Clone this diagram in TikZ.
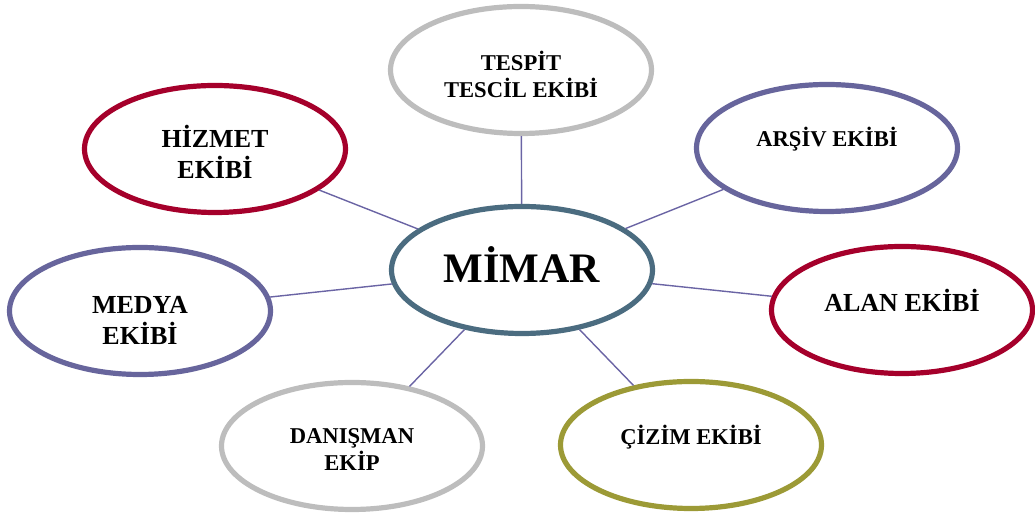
\documentclass[tikz,border=0pt]{standalone}
\usepackage{fontspec}
\setmainfont{Liberation Serif}
\usetikzlibrary{shapes}

\definecolor{ekipred}{HTML}{A5002B}
\definecolor{ekippurple}{HTML}{67659C}
\definecolor{ekipgray}{HTML}{BDBDBD}
\definecolor{ekipolive}{HTML}{9C9A36}
\definecolor{mimarblue}{HTML}{4B6C80}
\definecolor{linkblue}{HTML}{6A64A4}

% first baseline of the text put #1 above the centre of its ellipse
\newcommand{\ekiptext}[2]{\raisebox{#1}[0pt][0pt]{\begin{tabular}[t]{@{}c@{}}#2\end{tabular}}}

\begin{document}
\begin{tikzpicture}[
    x=0.5pt, y=-0.5pt,
    every node/.style={font=\bfseries},
    ekip/.style={draw, ellipse, fill=white, line width=2.6pt, minimum width=130.5pt, minimum height=63.5pt, inner sep=0pt},
    bigtext/.style={font=\fontsize{13}{15}\selectfont\bfseries},
    smalltext/.style={font=\fontsize{11.3}{13}\selectfont\bfseries},
    link/.style={draw=linkblue, line width=0.7pt}
]
\useasboundingbox (0,0) rectangle (1035,517);
\node[ekip, draw=mimarblue, font=\fontsize{21}{24}\selectfont\bfseries] (mimar) at (522,270) {\ekiptext{-6.5pt}{MİMAR}};
\node[ekip, draw=ekipgray, smalltext] (tespit) at (521,70) {\ekiptext{-0.3pt}{TESPİT\\TESCİL EKİBİ}};
\node[ekip, draw=ekipred, bigtext] (hizmet) at (215,149) {\ekiptext{0.7pt}{HİZMET\\EKİBİ}};
\node[ekip, draw=ekippurple, smalltext] (arsiv) at (827,148) {\ekiptext{0.8pt}{ARŞİV EKİBİ}};
\node[ekip, draw=ekippurple, bigtext] (medya) at (140,311) {\ekiptext{-1.3pt}{MEDYA\\EKİBİ}};
\node[ekip, draw=ekipred, bigtext] (alan) at (902,310) {\ekiptext{-0.8pt}{ALAN EKİBİ}};
\node[ekip, draw=ekipgray, smalltext] (danisman) at (352,446) {\ekiptext{1.2pt}{DANIŞMAN\\EKİP}};
\node[ekip, draw=ekipolive, smalltext] (cizim) at (691,445) {\ekiptext{0.3pt}{ÇİZİM EKİBİ}};
\draw[link] (mimar) -- (tespit);
\draw[link] (mimar) -- (hizmet);
\draw[link] (mimar) -- (arsiv);
\draw[link] (mimar) -- (medya);
\draw[link] (mimar) -- (alan);
\draw[link] (mimar) -- (danisman);
\draw[link] (mimar) -- (cizim);
\end{tikzpicture}
\end{document}
